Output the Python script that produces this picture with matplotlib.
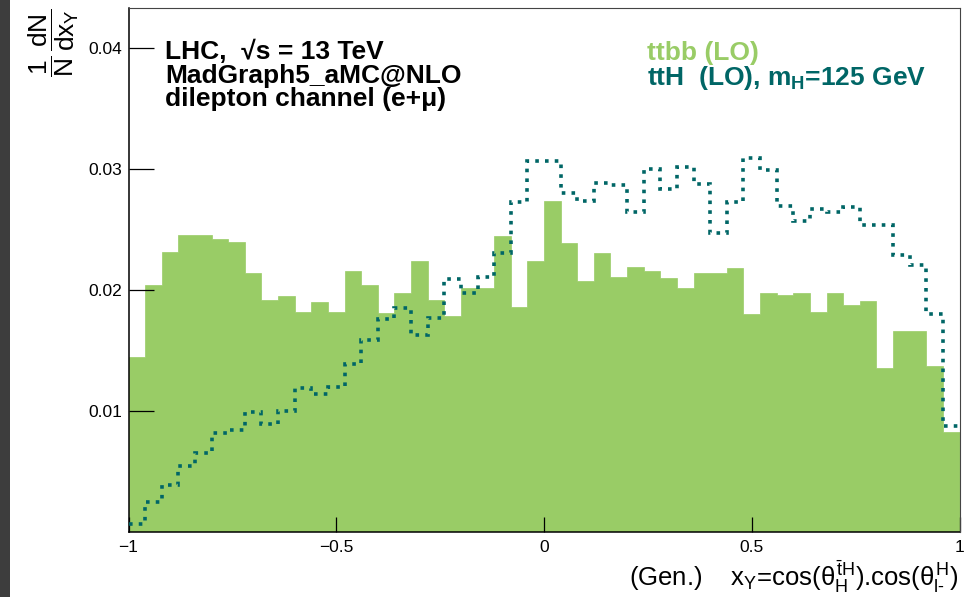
import matplotlib
matplotlib.use("Agg")
import matplotlib.pyplot as plt
from matplotlib.patches import Rectangle
import numpy as np

# Normalised distributions of x_Y = cos(theta_H^tH) * cos(theta_l-^H), 50 bins on [-1, 1]
x_range = (-1.0, 1.0)
n_bins = 50

ttbb = [0.0145, 0.0204, 0.0232, 0.0246, 0.0246, 0.0242, 0.0240, 0.0214, 0.0192, 0.0195,
        0.0182, 0.0190, 0.0182, 0.0216, 0.0204, 0.0181, 0.0198, 0.0224, 0.0192, 0.0179,
        0.0202, 0.0202, 0.0245, 0.0186, 0.0224, 0.0274, 0.0239, 0.0208, 0.0231, 0.0211,
        0.0219, 0.0216, 0.0210, 0.0202, 0.0214, 0.0214, 0.0218, 0.0180, 0.0198, 0.0196,
        0.0198, 0.0182, 0.0198, 0.0188, 0.0191, 0.0136, 0.0166, 0.0166, 0.0137, 0.0083]

ttH = [0.0007, 0.0025, 0.0039, 0.0055, 0.0065, 0.0082, 0.0084, 0.0099, 0.0089, 0.0100,
       0.0119, 0.0114, 0.0120, 0.0139, 0.0159, 0.0176, 0.0185, 0.0163, 0.0177, 0.0209,
       0.0198, 0.0211, 0.0231, 0.0273, 0.0307, 0.0307, 0.0280, 0.0274, 0.0289, 0.0287,
       0.0265, 0.0300, 0.0284, 0.0302, 0.0288, 0.0247, 0.0273, 0.0309, 0.0299, 0.0270,
       0.0257, 0.0267, 0.0265, 0.0269, 0.0254, 0.0254, 0.0229, 0.0221, 0.0180, 0.0088]

x_ticks = [-1, -0.5, 0, 0.5, 1]
x_tick_labels = ["\u22121", "\u22120.5", "0", "0.5", "1"]
y_ticks = [0.01, 0.02, 0.03, 0.04]
y_tick_labels = ["0.01", "0.02", "0.03", "0.04"]

GREEN = "#99CC66"
TEAL = "#006666"

plt.rcParams["font.family"] = ["Liberation Sans", "DejaVu Sans"]
plt.rcParams["mathtext.fontset"] = "custom"
plt.rcParams["mathtext.rm"] = "Liberation Sans"
plt.rcParams["mathtext.it"] = "Liberation Sans"
plt.rcParams["mathtext.bf"] = "Liberation Sans:bold"
plt.rcParams["mathtext.sf"] = "Liberation Sans"

W, H = 968, 597
fig = plt.figure(figsize=(W / 100, H / 100), dpi=100)
fig.patch.set_facecolor("white")


def fx(px):
    return px / W


def fy(py):
    return 1 - py / H


# dark strip along the left edge of the canvas
fig.patches.append(Rectangle((0, 0), fx(9.5), 1, transform=fig.transFigure,
                             facecolor="#3d3d3d", edgecolor="none", zorder=0))

ax = fig.add_axes([fx(128.5), fy(532), (959.5 - 128.5) / W, (532 - 8) / H])

edges = np.linspace(x_range[0], x_range[1], n_bins + 1)
ax.stairs(ttbb, edges, fill=True, baseline=0, facecolor=GREEN, edgecolor=GREEN,
          linewidth=0.5, zorder=1)
ax.stairs(ttH, edges, baseline=None, color=TEAL, linewidth=2.6,
          linestyle=(0, (1, 1.7)), zorder=3)

ax.set_xlim(*x_range)
ax.set_ylim(0, 0.04334)

ax.set_xticks(x_ticks)
ax.set_xticklabels(x_tick_labels, fontsize=12.5)
ax.set_yticks(y_ticks)
ax.set_yticklabels(y_tick_labels, fontsize=12.5)
ax.tick_params(axis="y", direction="in", length=18, width=0.9, pad=4.5, left=True, right=False)
ax.tick_params(axis="x", direction="in", length=11, width=0.9, pad=6, bottom=True, top=False)
ax.minorticks_off()

for side in ("left", "bottom"):
    ax.spines[side].set_linewidth(1.1)
    ax.spines[side].set_color("black")
for side in ("top", "right"):
    ax.spines[side].set_linewidth(0.8)
    ax.spines[side].set_color("#444444")
    ax.spines[side].set_zorder(5)

# y-axis title
fig.text(fx(27), fy(8), r"$\dfrac{1}{N}\,\dfrac{dN}{dx_{Y}}$", rotation=90,
         ha="left", va="top", fontsize=19)

# x-axis title
fig.text(fx(958), fy(586),
         r"(Gen.)    x$_{Y}$=cos($\theta_{H}^{\bar{t}H}$).cos($\theta_{l\text{-}}^{H}$)",
         ha="right", va="baseline", fontsize=18.5)

# process / generator labels
fs = 19
fig.text(fx(165), fy(59), "LHC,  \u221as = 13 TeV", fontsize=fs, fontweight="bold",
         va="baseline", ha="left")
fig.text(fx(165), fy(82.5), "MadGraph5_aMC@NLO", fontsize=fs, fontweight="bold",
         va="baseline", ha="left")
fig.text(fx(165), fy(106), "dilepton channel (e+\u03bc)", fontsize=fs, fontweight="bold",
         va="baseline", ha="left")

fig.text(fx(647), fy(60), "ttbb (LO)", fontsize=fs, fontweight="bold", color=GREEN,
         va="baseline", ha="left")
fig.text(fx(647), fy(85), r"ttH  (LO), m$_{\mathbf{H}}$=125 GeV", fontsize=fs,
         fontweight="bold", color=TEAL, va="baseline", ha="left")

fig.savefig("out.png", dpi=100, facecolor="white")
